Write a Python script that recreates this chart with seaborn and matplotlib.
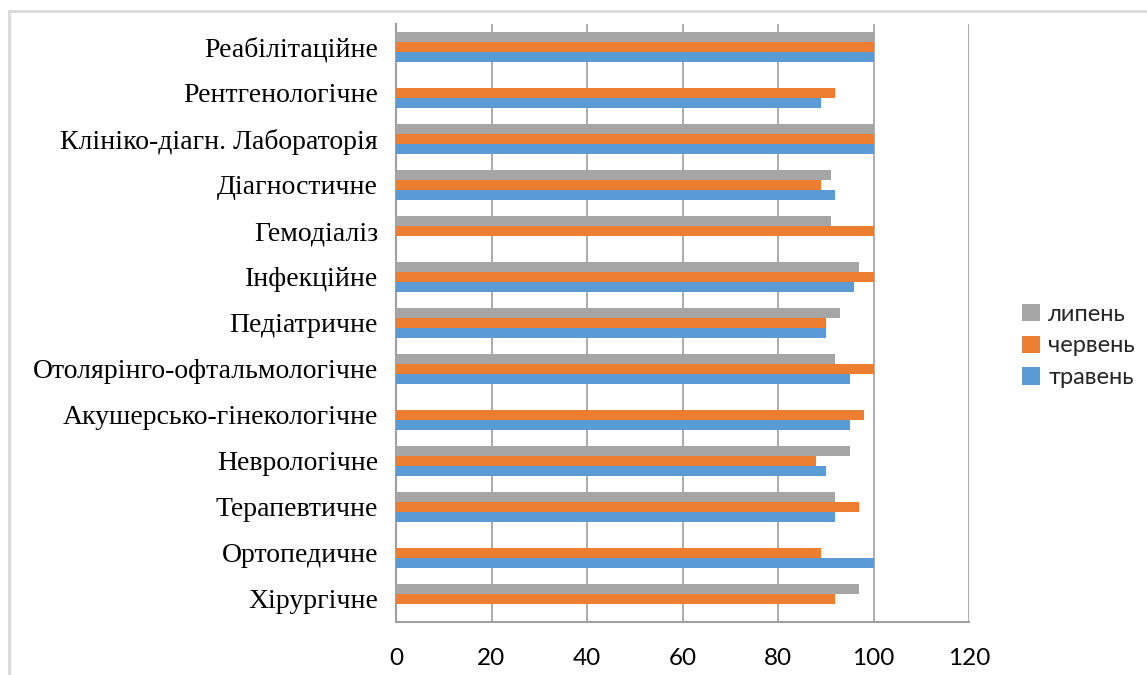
import matplotlib
matplotlib.use("Agg")
import matplotlib.pyplot as plt
from matplotlib.patches import Rectangle
from matplotlib.ticker import FixedLocator
import numpy as np
import pandas as pd
import seaborn as sns

# Departments, listed top to bottom
departments = [
    "Реабілітаційне",
    "Рентгенологічне",
    "Клініко-діагн. Лабораторія",
    "Діагностичне",
    "Гемодіаліз",
    "Інфекційне",
    "Педіатричне",
    "Отолярінго-офтальмологічне",
    "Акушерсько-гінекологічне",
    "Неврологічне",
    "Терапевтичне",
    "Ортопедичне",
    "Хірургічне",
]

# Monthly values per department (0 = no bar)
july = [100, 0, 100, 91, 91, 97, 93, 92, 0, 95, 92, 0, 97]
june = [100, 92, 100, 89, 100, 100, 90, 100, 98, 88, 97, 89, 92]
may = [100, 89, 100, 92, 0, 96, 90, 95, 95, 90, 92, 100, 0]

months = ["липень", "червень", "травень"]
month_colors = ["#a5a5a5", "#ed7d31", "#5b9bd5"]
x_ticks = [0, 20, 40, 60, 80, 100, 120]

df = pd.DataFrame({
    "dept": departments * 3,
    "month": [months[0]] * len(departments)
    + [months[1]] * len(departments)
    + [months[2]] * len(departments),
    "value": july + june + may,
})

sns.set_style("white")
plt.rcParams["font.family"] = ["Lato", "DejaVu Sans"]

W, H = 1147, 675
fig = plt.figure(figsize=(W / 100, H / 100), dpi=100)
ax = fig.add_axes([396 / W, 1 - 622 / H, (969 - 396) / W, (622 - 24) / H])

sns.barplot(
    data=df, y="dept", x="value", hue="month",
    order=departments, hue_order=months,
    palette=dict(zip(months, month_colors)),
    orient="h", width=0.67, gap=0, saturation=1,
    linewidth=0, errorbar=None, ax=ax, zorder=3,
)

axis_gray = "#a0a0a0"
ax.set_xlim(0, 120)
ax.set_xticks(x_ticks)
ax.set_xlabel("")
ax.set_ylabel("")
ax.grid(axis="x", color="#a6a6a6", linewidth=1.3, zorder=0)
ax.grid(axis="y", visible=False)
ax.set_axisbelow(True)

for side in ("top", "right"):
    ax.spines[side].set_visible(False)
for side in ("left", "bottom"):
    ax.spines[side].set_color(axis_gray)
    ax.spines[side].set_linewidth(1.5)

# Category boundary ticks on the vertical axis
ax.yaxis.set_minor_locator(FixedLocator(np.arange(-0.5, len(departments), 1.0)))
ax.tick_params(axis="y", which="major", length=0, pad=13)
ax.tick_params(axis="y", which="minor", length=7.5, width=1.3, color=axis_gray, direction="out")
ax.tick_params(axis="x", which="major", length=5, width=1.3, color=axis_gray,
               direction="out", pad=14, labelsize=17.5, labelcolor="#000000")

for lbl in ax.get_yticklabels():
    lbl.set_fontfamily("Liberation Serif")
    lbl.set_fontsize(20)
    lbl.set_color("#000000")

leg = ax.legend(
    loc="center left", bbox_to_anchor=(1001 / W, 1 - 346 / H),
    bbox_transform=fig.transFigure, frameon=False,
    handlelength=0.75, handleheight=0.75, handletextpad=0.35,
    labelspacing=0.45, prop={"family": "Lato", "size": 17},
)

# Chart frame
fig.add_artist(Rectangle((9 / W, -0.1), 1.2, 1.1 - 11 / H, transform=fig.transFigure,
                         fill=False, edgecolor="#d9d9d9", linewidth=2))

fig.savefig("out.png", dpi=100)
